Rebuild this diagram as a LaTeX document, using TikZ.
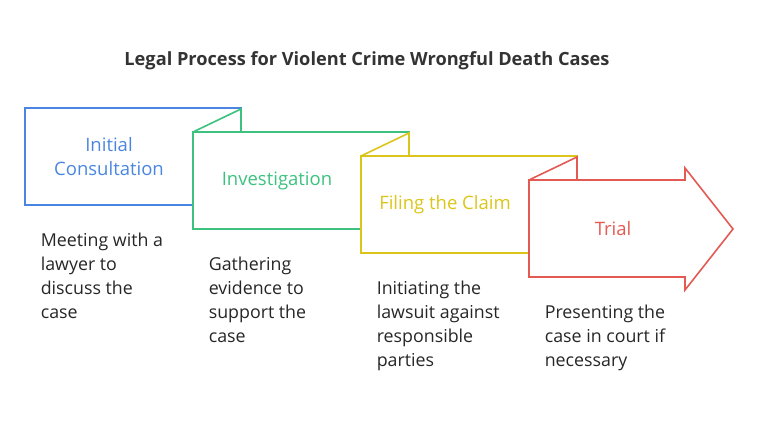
\documentclass[tikz,border=0pt]{standalone}
\usepackage{fontspec}
\setmainfont{Open Sans}
\begin{document}
\begin{tikzpicture}[x=1pt,y=-1pt,line width=1.6pt,
  lab/.style={font=\fontsize{18.5}{24}\selectfont,align=center},
  desc/.style={font=\fontsize{17.8}{24}\selectfont,align=left,anchor=north west,text=black!85,inner sep=0pt}]
\definecolor{cb}{HTML}{4A86E0}\definecolor{cg}{HTML}{3DC17F}
\definecolor{cy}{HTML}{DCC51A}\definecolor{cr}{HTML}{E35A52}
\useasboundingbox (0,0) rectangle (759,422);
\node[font=\bfseries\fontsize{18.2}{20}\selectfont,text=black!80] (title) at (367,61) {Legal Process for Violent Crime Wrongful Death Cases};
% blue
\draw[cb] (193,205) -- (25,205) -- (25,108) -- (241,108) -- (241,132);
\node[lab,text=cb] (n1) at (109,157) {Initial\\Consultation};
% green
\draw[cg,fill=white] (193,132) -- (241,109) -- (241,132);
\draw[cg] (361,229) -- (193,229) -- (193,132) -- (409,132) -- (409,156);
\node[lab,text=cg] (n2) at (277,181) {Investigation};
% yellow
\draw[cy] (361,156) -- (409,133) -- (409,156);
\draw[cy] (529,253) -- (361,253) -- (361,156) -- (577,156) -- (577,180);
\node[lab,text=cy] (n3) at (445,205) {Filing the Claim};
% red
\draw[cr] (529,180) -- (577,157) -- (577,180);
\draw[cr,line join=miter] (529,180) -- (685,180) -- (685,168) -- (733,229) -- (685,290) -- (685,277) -- (529,277) -- cycle;
\node[lab,text=cr] (n4) at (613,229) {Trial};
\node[desc] (d1) at (40,232) {Meeting with a\\lawyer to\\discuss the\\case};
\node[desc] (d2) at (208,256) {Gathering\\evidence to\\support the\\case};
\node[desc] (d3) at (376,280) {Initiating the\\lawsuit against\\responsible\\parties};
\node[desc] (d4) at (544,304) {Presenting the\\case in court if\\necessary};
\end{tikzpicture}
\end{document}
